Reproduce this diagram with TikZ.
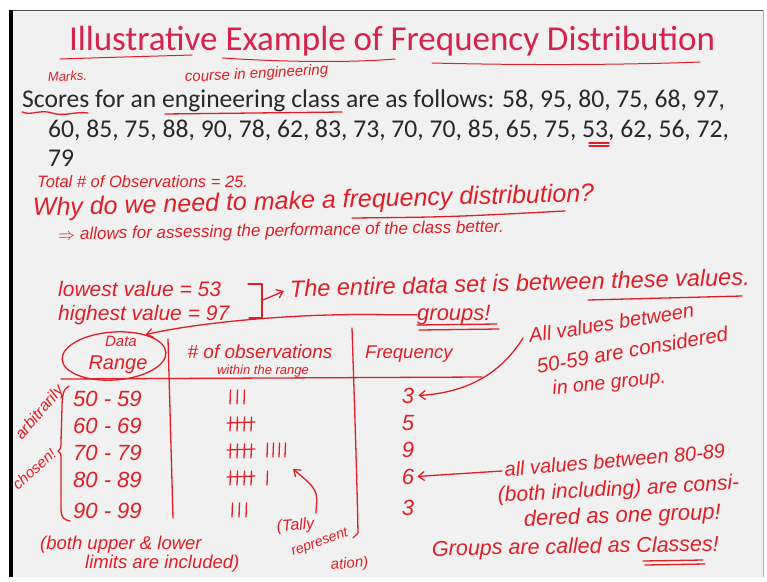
\documentclass[tikz,border=0pt]{standalone}
\usepackage{fontspec}
\setmainfont{Carlito}
\newfontfamily\handfont{Liberation Sans}
\usetikzlibrary{arrows.meta,shapes.geometric}
\definecolor{ink}{RGB}{226,30,36}
\definecolor{titlered}{RGB}{214,34,76}
\definecolor{slidegray}{RGB}{241,241,241}
\definecolor{bodygray}{RGB}{40,40,40}
% tally marks: x, baseline y
\newcommand{\tallyone}[2]{\draw[pen] (#1,#2) -- ++(0.5,-14);}
\newcommand{\tallyfive}[2]{%
  \foreach \k in {0,...,3}{\draw[pen] (#1+\k*7,#2) -- ++(0.5,-14);}
  \draw[pen] (#1-3,#2-8) -- ++(28,-1);}

\begin{document}
\begin{tikzpicture}[x=1pt,y=-1pt,
    hand/.style={text=ink,inner sep=0,anchor=base west,
      font=\handfont\itshape\fontsize{#1}{#1}\selectfont},
    hand/.default=21,
    body/.style={text=bodygray,inner sep=0,anchor=base west,
      font=\fontsize{25.6}{30}\selectfont},
    pen/.style={draw=ink,line width=1.3pt,line cap=round,line join=round},
    penarrow/.style={pen,-{Straight Barb[length=6pt,width=9pt]}},
    ]
    \useasboundingbox (0,0) rectangle (767,581);
    % slide
    \fill[white] (0,0) rectangle (767,581);
    \fill[slidegray] (10,10) rectangle (763,577);
    \draw[black!70,line width=0.8pt] (10,10) -- (763,10);
    \draw[black!30,line width=0.6pt] (763,10) -- (763,577);
    \fill[black] (9,10) rectangle (13,577);

    % typed text
    \node[text=titlered,inner sep=0,anchor=base,font=\fontsize{35}{40}\selectfont]
      (title) at (392,50) {Illustrative Example of Frequency Distribution};
    \node[body] (line1) at (22,107) {Scores for an engineering class are as follows: 58, 95, 80, 75, 68, 97,};
    \node[body] (line2) at (48,137) {60, 85, 75, 88, 90, 78, 62, 83, 73, 70, 70, 85, 65, 75, 53, 62, 56, 72,};
    \node[body] (line3) at (48,166) {79};

    % underlines
    \draw[pen,line width=1pt] (60,59) .. controls (120,57) and (160,56) .. (192,55);
    \draw[pen,line width=1pt] (222,58) .. controls (300,63) and (360,62) .. (395,59);
    \draw[pen,line width=1pt] (432,63) .. controls (550,66) and (650,64) .. (700,62);
    \draw[pen] (22,112) .. controls (32,116) and (40,109) .. (52,113)
                        .. controls (64,117) and (76,111) .. (88,113);
    \draw[pen] (165,114) -- (342,112);
    \draw[pen] (589,143) -- (609,143);
    \draw[pen] (589,146) -- (609,146);

    % handwriting
    \node[hand=13,rotate=3] (marks) at (48,82) {Marks.};
    \node[hand=15,rotate=3] (course) at (185,82) {course in engineering};
    \node[hand=16.5] (total) at (37,187) {Total \# of Observations = 25.};
    \node[hand=25,rotate=1.5] (why) at (33,216) {Why do we need to make a frequency distribution?};
    \draw[pen] (352,218) .. controls (450,217) .. (565,211);
    \node[hand=17,rotate=1] (allows) at (58,240) {$\Rightarrow$ allows for assessing the performance of the class better.};
    \node[hand] (lowest) at (58,296) {lowest value = 53};
    \node[hand] (highest) at (58,320) {highest value = 97};
    \node[hand=23.5,rotate=1.5] (entire) at (290,297) {The entire data set is between these values.};
    \draw[pen] (588,300) -- (742,296);
    \draw[pen] (248,284) -- (262,284) -- (262,318) -- (249,318);
    \coordinate (brk) at (263,300);
    \draw[penarrow] (brk) -- ([shift={(-6,-6)}]entire.base west);
    \node[hand=22] (groups) at (417,320) {groups!};
    \draw[pen] (417,325) -- (497,324);
    \draw[pen] (419,330) -- (499,329);

    % table
    \node[draw=ink,line width=1.3pt,ellipse,minimum width=104pt,minimum height=48pt,
      inner sep=0,rotate=4] (rangeoval) at (114,356) {};
    \node[hand=15,anchor=base] (datalbl) at (121,346) {Data};
    \node[hand=20,anchor=base] (rangelbl) at (118,369) {Range};
    \node[hand=19,anchor=base] (obs) at (260,358) {\# of observations};
    \node[hand=13,anchor=base] (within) at (263,374) {within the range};
    \node[hand=18.5] (freqhead) at (365,358) {Frequency};
    \draw[pen] (61,379) -- (482,377);
    \draw[pen] (168,339) -- (173,518);
    \draw[pen] (352,328) .. controls (355,420) and (357,480) .. (358,533) -- (353,538);
    \draw[penarrow] (groups.west) -- ++(-34,0)
      .. controls (300,313) and (200,322) .. (rangeoval.30);

    \foreach \lo/\hi/\y/\f in {50/59/406/3, 60/69/433/5, 70/79/460/9, 80/89/487/6, 90/99/518/3}{
      \node[hand=22] (range\lo) at (73,\y) {\lo{} - \hi};
      \node[hand=22,anchor=base] (freq\lo) at (408,\y-3) {\f};
    }
    \tallyone{230}{404} \tallyone{237}{404} \tallyone{244}{404}
    \tallyfive{230}{431}
    \tallyfive{230}{458}
    \tallyone{267}{457} \tallyone{273}{457} \tallyone{279}{457} \tallyone{285}{457}
    \tallyfive{230}{485} \tallyone{267}{485}
    \tallyone{232}{517} \tallyone{239}{517} \tallyone{246}{517}

    % left brace and note
    \draw[pen] (69,386) .. controls (63,389) and (62,396) .. (62,408) -- (61,442)
      .. controls (61,448) .. (58,451) .. controls (61,453) .. (61,460) -- (61,510)
      .. controls (61,517) and (64,520) .. (70,521);
    \node[hand=16,anchor=center,rotate=50] (arbit) at (40,413) {arbitrarily};
    \node[hand=15,anchor=center,rotate=42] (chosen) at (34,469) {chosen!};
    \node[hand=18.5] (bothA) at (40,549) {(both upper \& lower};
    \node[hand=18.5] (bothB) at (85,568) {limits are included)};

    % tally note
    \node[hand=16,rotate=5] (tallyA) at (277,532) {(Tally};
    \node[hand=14,rotate=20] (tallyB) at (293,556) {represent};
    \node[hand=15,rotate=5] (tallyC) at (331,570) {ation)};
    \coordinate (tallytip) at (293,469);
    \draw[penarrow] ([shift={(2,-4)}]tallyA.north east) .. controls (318,490) .. (tallytip);

    % right notes
    \node[hand=20,rotate=9] (allA) at (530,343) {All values between};
    \node[hand=20.5,rotate=10] (allA2) at (538,374) {50-59 are considered};
    \node[hand=19.5,rotate=6] (allA3) at (553,395) {in one group.};
    \draw[penarrow] ([shift={(-7,-5)}]allA.base west)
      .. controls (500,375) and (465,393) .. ([xshift=4pt]freq50.east);
    \node[hand=20,rotate=5] (allB) at (505,477) {all values between 80-89};
    \node[hand=21,rotate=3] (allB2) at (498,502) {(both including) are consi-};
    \node[hand=22,rotate=2] (allB3) at (524,526) {dered as one group!};
    \node[hand=21.5,rotate=1] (classes) at (432,556) {Groups are called as Classes!};
    \draw[pen] (643,561) -- (703,560);
    \draw[pen] (645,565) -- (705,564);
    \draw[penarrow] ([shift={(-3,-6)}]allB.base west) -- ([xshift=3pt]freq80.east);
\end{tikzpicture}
\end{document}
